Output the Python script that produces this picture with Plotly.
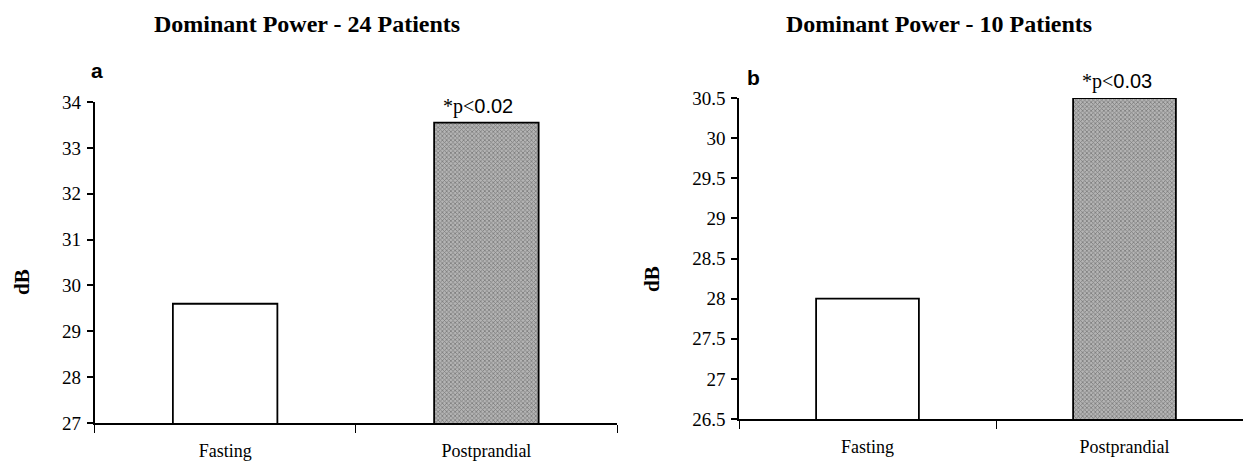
import plotly.graph_objects as go

categories = ["Fasting", "Postprandial"]
values_a = [29.6, 33.55]
values_b = [28.0, 30.5]
yticks_a = [27, 28, 29, 30, 31, 32, 33, 34]
yticks_b = [26.5, 27, 27.5, 28, 28.5, 29, 29.5, 30, 30.5]
ytick_text_b = ["26.5", "27", "27.5", "28", "28.5", "29", "29.5", "30", "30.5"]
titles = ["Dominant Power - 24 Patients", "Dominant Power - 10 Patients"]
panel_labels = ["a", "b"]
pvals = ["0.02", "0.03"]

W, H = 1251, 462
OFF = 8  # page body margin
SERIF = "Liberation Serif"
SANS = "Liberation Sans"

def fx(px):
    return (px - OFF) / W

def fy(py):
    return 1 - (py - OFF) / H

fig = go.Figure()

fill_colors = ["white", "#b4b4b4"]
patterns = ["", "x"]

for i, (vals, xa, ya) in enumerate([(values_a, "x", "y"), (values_b, "x2", "y2")]):
    fig.add_trace(go.Bar(
        x=categories, y=vals, xaxis=xa, yaxis=ya, width=0.4,
        marker=dict(
            color=fill_colors,
            line=dict(color="black", width=1.8),
            pattern=dict(shape=patterns, size=3, solidity=0.45,
                         fgcolor="#4a4a4a", bgcolor="#c0c0c0", fillmode="overlay"),
        ),
        showlegend=False,
    ))

common_x = dict(
    type="category", range=[-0.5, 1.5], showline=True, linecolor="black", linewidth=1.5,
    ticks="outside", tickson="boundaries", ticklen=8, tickcolor="black", tickwidth=1,
    showgrid=False, zeroline=False, ticklabelstandoff=11, automargin=False,
    tickfont=dict(family=SERIF, size=18, color="black"),
)
common_y = dict(
    showline=True, linecolor="black", linewidth=1.5, ticks="outside", ticklen=6,
    tickcolor="black", tickwidth=1.5, showgrid=False, zeroline=False, automargin=False,
    ticklabelstandoff=2, tickfont=dict(family=SERIF, size=19, color="black"),
)

fig.update_layout(
    width=W, height=H, margin=dict(l=0, r=0, t=0, b=0, autoexpand=False),
    paper_bgcolor="white", plot_bgcolor="white",
    xaxis=dict(domain=[fx(94.5), fx(617)], anchor="y", **common_x),
    yaxis=dict(domain=[fy(423), fy(102)], anchor="x", range=[27, 34],
               tickvals=yticks_a, **common_y),
    xaxis2=dict(domain=[fx(739), fx(1253)], anchor="y2", **common_x),
    yaxis2=dict(domain=[fy(419), fy(98)], anchor="x2", range=[26.5, 30.5],
                tickvals=yticks_b, ticktext=ytick_text_b, **common_y),
)

# titles
for t, cx in zip(titles, [307, 939]):
    fig.add_annotation(text="<b>%s</b>" % t, x=fx(cx), y=fy(24), xref="paper", yref="paper",
                       showarrow=False, xanchor="center", yanchor="middle",
                       font=dict(family=SERIF, size=24, color="black"))

# panel labels
for lab, (px, py) in zip(panel_labels, [(97, 70), (753, 77)]):
    fig.add_annotation(text="<b>%s</b>" % lab, x=fx(px), y=fy(py), xref="paper", yref="paper",
                       showarrow=False, xanchor="center", yanchor="middle",
                       font=dict(family=SANS, size=21, color="black"))

# y axis titles
for px, py in [(22, 282), (652, 279)]:
    fig.add_annotation(text="<b>dB</b>", x=fx(px), y=fy(py), xref="paper", yref="paper",
                       showarrow=False, textangle=-90, xanchor="center", yanchor="middle",
                       font=dict(family=SERIF, size=21, color="black"))

# significance labels
for pv, vals, xa, ya in zip(pvals, [values_a, values_b], ["x", "x2"], ["y", "y2"]):
    txt = "*p&lt;<span style='font-family:%s'>%s</span>" % (SANS, pv)
    fig.add_annotation(text=txt, x=categories[1], y=vals[1], xref=xa, yref=ya,
                       showarrow=False, xanchor="center", yanchor="bottom", yshift=3, xshift=-8,
                       font=dict(family=SERIF, size=20, color="black"))

fig.write_html("out.html")
